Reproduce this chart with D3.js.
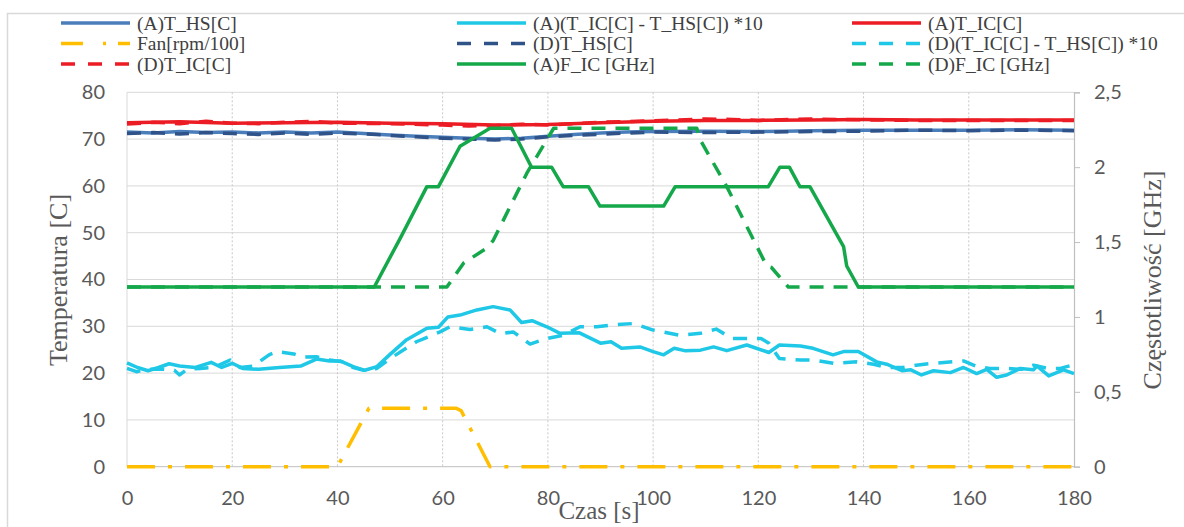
<!DOCTYPE html>
<html><head><meta charset="utf-8">
<script src="https://cdn.jsdelivr.net/npm/d3@7"></script>
<style>
html,body{margin:0;padding:0;background:#fff;}
svg{display:block;}
</style></head>
<body>
<svg id="chart" width="1184" height="527"></svg>
<script>
// ---------------- DATA ----------------
const xTicks = [0, 20, 40, 60, 80, 100, 120, 140, 160, 180];
const yLeftTicks = [0, 10, 20, 30, 40, 50, 60, 70, 80];
const yRightTicks = [0, 0.5, 1, 1.5, 2, 2.5];
const yRightLabels = ["0", "0,5", "1", "1,5", "2", "2,5"];

// [time s, value]
const aTHS = [[0,71.5],[5,71.3],[10,71.6],[15,71.4],[20,71.5],[25,71.3],[30,71.5],[35,71.3],[40,71.5],[45,71.2],[50,70.9],[55,70.6],[60,70.4],[65,70.2],[70,70.0],[75,70.2],[80,70.6],[85,71.0],[90,71.3],[95,71.5],[100,71.6],[110,71.7],[120,71.6],[125,71.7],[130,71.8],[140,71.9],[150,71.9],[160,71.9],[170,72.0],[180,71.9]];
const dTHS = [[0,71.2],[5,71.4],[10,71.1],[15,71.4],[20,71.2],[25,71.0],[30,71.3],[35,71.0],[40,71.3],[45,71.1],[50,70.8],[55,70.5],[60,70.2],[65,70.0],[70,69.8],[75,70.0],[80,70.5],[85,70.8],[90,71.0],[95,71.3],[100,71.5],[110,71.4],[120,71.5],[130,71.6],[140,71.7],[150,71.9],[160,71.8],[170,71.9],[180,71.8]];
const aTIC = [[0,73.5],[10,73.7],[20,73.4],[30,73.5],[40,73.6],[50,73.4],[60,73.3],[70,73.0],[80,73.1],[90,73.5],[100,73.8],[110,74.0],[120,74.0],[130,74.1],[140,74.2],[150,74.1],[160,74.1],[170,74.1],[180,74.1]];
const dTIC = [[0,73.2],[5,73.6],[10,73.3],[15,73.8],[20,73.4],[25,73.3],[30,73.6],[35,73.8],[40,73.4],[50,73.3],[60,73.0],[65,72.8],[70,72.9],[75,73.2],[80,73.0],[90,73.6],[100,73.9],[110,74.3],[115,74.2],[120,74.0],[130,74.3],[140,74.1],[150,74.0],[160,74.0],[170,74.0],[180,74.0]];
const aDiff = [[0,22.2],[2,21.2],[4,20.5],[6,21.2],[8,22.0],[10,21.5],[13,21.2],[16,22.3],[18,21.2],[20,22.1],[22,21.0],[25,20.8],[29,21.2],[33,21.5],[36,23.0],[38.5,22.6],[40.5,22.6],[43,21.4],[45.2,20.6],[47.5,21.4],[50,24.0],[53,27.0],[57,29.6],[59.2,29.8],[61,32.0],[63.3,32.4],[66.5,33.5],[69.6,34.2],[72.8,33.5],[75,30.8],[77,31.2],[79.8,29.9],[82.3,28.5],[86,28.6],[90,26.4],[92,26.7],[94,25.3],[97.5,25.6],[100,24.6],[102,23.9],[104,25.3],[106,24.8],[109,24.9],[111.5,25.6],[114,24.8],[117.8,26.0],[122,24.4],[124,26.0],[128,25.8],[130.4,25.3],[134.2,23.9],[136.2,24.6],[139,24.6],[142.5,22.4],[144.4,21.9],[147.3,20.5],[149,20.7],[151,19.6],[153.3,20.5],[156.5,20.1],[159,21.2],[161.5,19.9],[163.4,20.8],[165.3,19.1],[167.2,19.6],[169.8,21.0],[172.3,20.7],[173,21.5],[175.2,19.4],[178,20.7],[180,19.9]];
const dDiff = [[0,21.0],[1.8,20.3],[4,20.8],[7,20.8],[9,20.6],[10,19.6],[11.4,20.8],[13.9,21.0],[16.5,21.2],[19.6,22.8],[21.5,21.2],[24,21.5],[27,23.9],[28.5,24.6],[31.7,24.1],[33.5,23.4],[36,23.5],[38.6,22.8],[41,22.4],[43,21.2],[45,20.6],[47.5,21.0],[50,23.1],[55,26.7],[59.5,28.8],[61.4,29.9],[65.2,29.3],[68.4,29.9],[71,28.4],[73.4,28.8],[76.6,26.2],[79.8,27.4],[83,28.1],[86.1,29.9],[89.3,29.9],[92.5,30.3],[96.3,30.6],[100,29.2],[105,28.1],[109,28.5],[112,29.4],[115,27.4],[120.5,27.4],[122,26.4],[124,23.1],[128,22.8],[130.5,22.8],[134.3,22.1],[138.7,22.4],[141.9,21.9],[144.4,21.2],[147.5,21.2],[150,21.7],[153.3,22.1],[159,22.6],[161.5,21.4],[164,21.0],[167,21.0],[170,20.8],[172.3,21.7],[175,21.0],[177.4,21.0],[180,21.8]];
const fan = [[0,0],[40,0],[46,12.5],[62.5,12.5],[63.5,12.0],[69,0],[180,0]];
const aFIC = [[0,1.2],[47,1.2],[52,1.53],[57,1.87],[59.2,1.87],[63.3,2.14],[65.2,2.18],[69,2.26],[73.1,2.26],[76.9,2.0],[80.7,2.0],[82.9,1.87],[87.7,1.87],[89.9,1.74],[102,1.74],[104.2,1.87],[121.9,1.87],[124.1,2.0],[125.9,2.0],[127.9,1.87],[129.8,1.87],[136.2,1.47],[136.8,1.34],[139,1.2],[180,1.2]];
const dFIC = [[0,1.2],[60.8,1.2],[64,1.36],[68.4,1.46],[69.6,1.51],[76,1.96],[81.1,2.26],[108.3,2.26],[109,2.18],[114,1.87],[121.6,1.34],[122.5,1.33],[125.7,1.2],[180,1.2]];

const legendLabels = ["(A)T_HS[C]", "(A)(T_IC[C] - T_HS[C]) *10", "(A)T_IC[C]",
                      "Fan[rpm/100]", "(D)T_HS[C]", "(D)(T_IC[C] - T_HS[C]) *10",
                      "(D)T_IC[C]", "(A)F_IC [GHz]", "(D)F_IC [GHz]"];

// ---------------- STYLES ----------------
const C = {
  blue: "#4a7ebb", navy: "#2f5288", cyan: "#1fc8e6", red: "#ec1c24",
  yellow: "#ffbf00", green: "#14a84a"
};
const DASH = "14,10";
const DASHDOT = "28,13,4,13";
const series = [
  {data: aTHS, axis: "L", color: C.blue, dash: null},
  {data: aDiff, axis: "L", color: C.cyan, dash: null},
  {data: aTIC, axis: "L", color: C.red, dash: null},
  {data: fan, axis: "L", color: C.yellow, dash: DASHDOT},
  {data: dTHS, axis: "L", color: C.navy, dash: DASH},
  {data: dDiff, axis: "L", color: C.cyan, dash: DASH},
  {data: dTIC, axis: "L", color: C.red, dash: DASH},
  {data: aFIC, axis: "R", color: C.green, dash: null},
  {data: dFIC, axis: "R", color: C.green, dash: DASH}
];

// ---------------- LAYOUT ----------------
const svg = d3.select("#chart");
const L = 127, R = 1074, T = 92.3, B = 466.7;
const x = d3.scaleLinear().domain([0, 180]).range([L, R]);
const yL = d3.scaleLinear().domain([0, 80]).range([B, T]);
const yR = d3.scaleLinear().domain([0, 2.5]).range([B, T]);

// outer frame
svg.append("rect").attr("x", 7.5).attr("y", 13.5).attr("width", 1200).attr("height", 600)
  .attr("fill", "none").attr("stroke", "#d9d9d9").attr("stroke-width", 1.5);

// horizontal gridlines
svg.append("g").selectAll("line").data(yLeftTicks).join("line")
  .attr("x1", L).attr("x2", R).attr("y1", d => yL(d)).attr("y2", d => yL(d))
  .attr("stroke", d => d === 0 ? "#bfbfbf" : "#d9d9d9").attr("stroke-width", 1);
// vertical gridlines (dotted)
svg.append("g").selectAll("line").data(xTicks.filter(d => d > 0 && d < 180)).join("line")
  .attr("x1", d => x(d)).attr("x2", d => x(d)).attr("y1", T).attr("y2", B)
  .attr("stroke", "#c8c8c8").attr("stroke-width", 1).attr("stroke-dasharray", "2,2");
// left border
svg.append("line").attr("x1", L).attr("x2", L).attr("y1", T).attr("y2", B)
  .attr("stroke", "#d9d9d9").attr("stroke-width", 1);

// left axis
const gL = svg.append("g").attr("transform", `translate(${L},0)`)
  .call(d3.axisLeft(yL).tickValues(yLeftTicks).tickSize(0).tickPadding(22));
gL.select(".domain").remove();
gL.selectAll("text").attr("font-family", "Lato, 'Liberation Sans', sans-serif")
  .attr("font-size", 20).attr("fill", "#595959");

// bottom axis
const gB = svg.append("g").attr("transform", `translate(0,${B})`)
  .call(d3.axisBottom(x).tickValues(xTicks).tickSize(0).tickPadding(24));
gB.select(".domain").remove();
gB.selectAll("text").attr("font-family", "Lato, 'Liberation Sans', sans-serif")
  .attr("font-size", 20).attr("fill", "#595959");

// right axis
const gR = svg.append("g").attr("transform", `translate(${R},0)`)
  .call(d3.axisRight(yR).tickValues(yRightTicks).tickSize(6).tickPadding(14)
    .tickFormat((d, i) => yRightLabels[i]));
gR.select(".domain").attr("stroke", "#bfbfbf").attr("stroke-width", 1.2);
gR.selectAll(".tick line").attr("stroke", "#bfbfbf");
gR.selectAll("text").attr("font-family", "Lato, 'Liberation Sans', sans-serif")
  .attr("font-size", 20).attr("fill", "#595959");

// series
const lineL = d3.line().x(d => x(d[0])).y(d => yL(d[1]));
const lineR = d3.line().x(d => x(d[0])).y(d => yR(d[1]));
series.forEach(s => {
  svg.append("path").datum(s.data)
    .attr("d", s.axis === "L" ? lineL : lineR)
    .attr("fill", "none").attr("stroke", s.color).attr("stroke-width", 3.5)
    .attr("stroke-linejoin", "round")
    .attr("stroke-dasharray", s.dash);
});

// axis titles
const serif = "'Liberation Serif', 'DejaVu Serif', serif";
svg.append("text").attr("transform", "translate(67,280) rotate(-90)")
  .attr("text-anchor", "middle").attr("font-family", serif).attr("font-size", 26)
  .attr("fill", "#595959").text("Temperatura [C]");
svg.append("text").attr("transform", "translate(1161,280) rotate(-90)")
  .attr("text-anchor", "middle").attr("font-family", serif).attr("font-size", 26)
  .attr("fill", "#595959").text("Częstotliwość [GHz]");
svg.append("text").attr("x", 599).attr("y", 519)
  .attr("text-anchor", "middle").attr("font-family", serif).attr("font-size", 25)
  .attr("fill", "#595959").text("Czas [s]");

// legend
const colX = [61, 457, 852];
const rowY = [23, 43.5, 64];
const lg = svg.append("g");
series.forEach((s, i) => {
  const cx = colX[i % 3], cy = rowY[Math.floor(i / 3)];
  lg.append("line").attr("x1", cx).attr("x2", cx + 69).attr("y1", cy).attr("y2", cy)
    .attr("stroke", s.color).attr("stroke-width", 3.5)
    .attr("stroke-dasharray", s.dash === DASHDOT ? "22,20,3,12" : (s.dash ? "14,13" : null));
  lg.append("text").attr("x", cx + 76).attr("y", cy + 6.5)
    .attr("font-family", serif).attr("font-size", 19.5).attr("fill", "#404040")
    .text(legendLabels[i]);
});
</script>
</body></html>
